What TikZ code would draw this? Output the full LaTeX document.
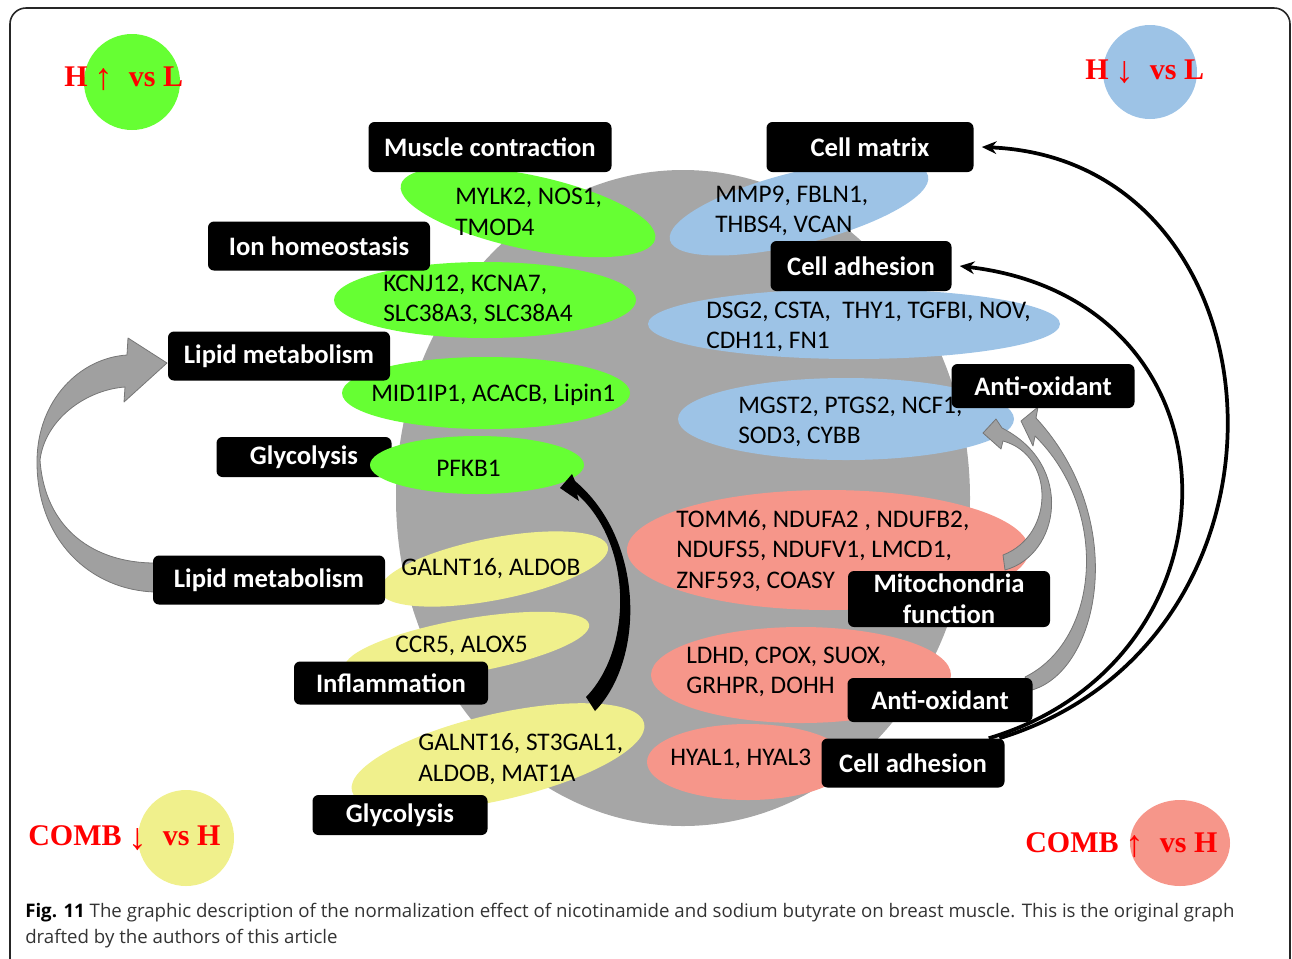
\documentclass[tikz,border=0pt]{standalone}
\usepackage{fontspec}
\usetikzlibrary{arrows.meta}
\newfontfamily\gfont{Carlito}
\newfontfamily\lfont{Liberation Serif}
\newfontfamily\capfont{Open Sans}
\definecolor{cgreen}{RGB}{102,255,51}
\definecolor{cblue}{RGB}{157,195,230}
\definecolor{cred}{RGB}{246,150,138}
\definecolor{cyellow}{RGB}{240,240,140}
\definecolor{cgray}{RGB}{166,166,166}
\definecolor{ribbonfill}{RGB}{160,160,160}
\definecolor{ribbonline}{RGB}{118,118,118}
\newcommand{\legarrow}[1]{{\fontsize{28}{28}\selectfont\raisebox{-2.5pt}{#1}}}
\begin{document}
\begin{tikzpicture}[x=0.75pt,y=-0.75pt,
  lbl/.style={fill=black, rounded corners=4.5pt, text=white,
    font=\gfont\bfseries\fontsize{20}{23.2}\selectfont, inner sep=0pt, align=center},
  bx/.style 2 args={minimum width=#1*0.75pt, minimum height=#2*0.75pt},
  gene/.style={font=\gfont\fontsize{19}{23}\selectfont, align=left, inner sep=0pt, anchor=west},
  legend/.style={font=\lfont\bfseries\fontsize{22.5}{25}\selectfont, text=red, inner sep=0pt, anchor=west},
  ribbon/.style={fill=ribbonfill, draw=ribbonline, line width=0.6pt, line join=round},
  link/.style={line width=2.8pt, -{Stealth[length=11pt,width=9.5pt]}}
]
\useasboundingbox (0,0) rectangle (1292,958);
\begin{scope}
\clip (0,0) rectangle (1292,958);
\draw[line width=1.2pt, black!85, rounded corners=12pt] (10,8) rectangle (1290,990);
\end{scope}

% legend circles
\fill[cgreen] (132,82) circle (48);
\fill[cblue] (1150,72) circle (47);
\fill[cyellow] (186,838) circle (48);
\fill[cred] (1180,843) ellipse (50 and 43);
\node[legend] (lg1) at (64,79) {H\hspace{5pt}\legarrow{↑}\hspace{12pt}vs L};
\node[legend] (lg2) at (1085,72) {H\hspace{5pt}\legarrow{↓}\hspace{12pt}vs L};
\node[legend] (lg3) at (28,838) {COMB\hspace{5pt}\legarrow{↓}\hspace{12pt}vs H};
\node[legend] (lg4) at (1025,845) {COMB\hspace{5pt}\legarrow{↑}\hspace{12pt}vs H};

% central grey ellipse
\fill[cgray] (683,498) ellipse (287 and 328);

% green ellipses
\fill[cgreen, rotate around={-12:(528,212)}] (528,212) ellipse (130 and 37);
\fill[cgreen] (485,300) ellipse (151 and 38);
\fill[cgreen] (486,393) ellipse (144 and 36);
% blue ellipses
\fill[cblue, rotate around={14:(799,208)}] (799,208) ellipse (133 and 36);
\fill[cblue] (854,324) ellipse (206 and 35);
\fill[cblue] (846,419) ellipse (168 and 41);
% red ellipses
\fill[cred] (828,550) ellipse (201 and 60);
\fill[cred] (801,675) ellipse (150 and 48);
\fill[cred] (748,762) ellipse (101 and 38);
% yellow ellipses
\fill[cyellow, rotate around={11:(494,569)}] (494,569) ellipse (116 and 31);
\fill[cyellow, rotate around={10:(467,646)}] (467,646) ellipse (124 and 27);
\fill[cyellow, rotate around={13:(498,757)}] (498,757) ellipse (150 and 43);

% gene texts
\node[gene] (g1) at (455,212) {MYLK2, NOS1,\\TMOD4};
\node[gene] (g2) at (383,300) {KCNJ12, KCNA7,\\SLC38A3, SLC38A4};
\node[gene] (g3) at (371,395) {MID1IP1, ACACB, Lipin1};
\node[gene] (g5) at (715,211) {MMP9, FBLN1,\\THBS4, VCAN};
\node[gene] (g6) at (706,327) {DSG2, CSTA,\ \ THY1, TGFBI, NOV,\\CDH11, FN1};
\node[gene] (g7) at (738,422) {MGST2, PTGS2, NCF1,\\SOD3, CYBB};
\node[gene] (g8) at (676,551) {TOMM6, NDUFA2 , NDUFB2,\\NDUFS5, NDUFV1, LMCD1,\\ZNF593, COASY};
\node[gene] (g9) at (686,672) {LDHD, CPOX, SUOX,\\GRHPR, DOHH};
\node[gene] (g10) at (670,759) {HYAL1, HYAL3};
\node[gene] (g11) at (401,569) {GALNT16, ALDOB};
\node[gene] (g12) at (395,646) {CCR5, ALOX5};
\node[gene] (g13) at (418,759) {GALNT16, ST3GAL1,\\ALDOB, MAT1A};

% grey ribbon arrows
\filldraw[ribbon] (155,592) .. controls (90,590) and (37,540) .. (37,462)
  .. controls (37,400) and (80,358) .. (127,355) -- (128,338) -- (167,363) -- (124,402) -- (125,387)
  .. controls (85,390) and (45,420) .. (40,460)
  .. controls (45,530) and (95,563) .. (155,563) -- cycle;
\filldraw[ribbon] (1005,570) .. controls (1060,555) and (1075,465) .. (1002,428) -- (996,419) -- (983,433) -- (1001,449) -- (1003,441)
  .. controls (1055,455) and (1055,535) .. (1003,555) -- cycle;
\filldraw[ribbon] (1032,690) .. controls (1100,670) and (1130,520) .. (1036,418) -- (1038,407) -- (1021,421) -- (1033,446) -- (1035,436)
  .. controls (1110,510) and (1100,640) .. (1025,677) -- cycle;

% label boxes
\node[lbl, bx={243}{50}] (musc) at (490,147) {Muscle contraction};
\node[lbl, bx={222}{49}] (ion) at (319,246) {Ion homeostasis};
\node[lbl, bx={222}{49}] (lip1) at (279,356) {Lipid metabolism};
\node[lbl, bx={175}{40}] (gly1) at (304,457) {Glycolysis};
\node[lbl, bx={232}{49}] (lip2) at (269,580) {Lipid metabolism};
\node[lbl, bx={194}{43}] (infl) at (391,683) {Inflammation};
\node[lbl, bx={175}{40}] (gly2) at (400,815) {Glycolysis};
\node[lbl, bx={207}{50}] (cmat) at (870,147) {Cell matrix};
\node[lbl, bx={181}{50}] (cadh1) at (861,266) {Cell adhesion};
\node[lbl, bx={183}{44}] (anti1) at (1043,386) {Anti-oxidant};
\node[lbl, bx={202}{56}] (mito) at (949,599) {Mitochondria\\function};
\node[lbl, bx={185}{44}] (anti2) at (940,700) {Anti-oxidant};
\node[lbl, bx={183}{49}] (cadh2) at (913,763) {Cell adhesion};

% PFKB1 ellipse over its box
\fill[cgreen] (477,465) ellipse (107 and 29);
\node[gene] (g4) at (436,468) {PFKB1};

% thick black curved arrow
\fill[black] (586,697) .. controls (632,650) and (634,545) .. (577,494) -- (579,501) -- (560,488) -- (572,474) -- (575,481)
  .. controls (645,540) and (645,660) .. (595,711) -- cycle;

% black line arrows
\draw[link] ([xshift=-4]cadh2.north east) .. controls (1320,640) and (1290,160) .. ([xshift=6]cmat.east);
\draw[link] ([xshift=-12]cadh2.north east) .. controls (1250,660) and (1250,300) .. ([xshift=6]cadh1.east);

% caption
\node[anchor=north west, inner sep=0pt, align=left, text=black!80,
  font=\capfont\fontsize{14}{19.5}\selectfont] (cap) at (25,903)
  {\textbf{\color{black}Fig. 11} The graphic description of the normalization effect of nicotinamide and sodium butyrate on breast muscle. This is the original graph\\drafted by the authors of this article};
\end{tikzpicture}
\end{document}
